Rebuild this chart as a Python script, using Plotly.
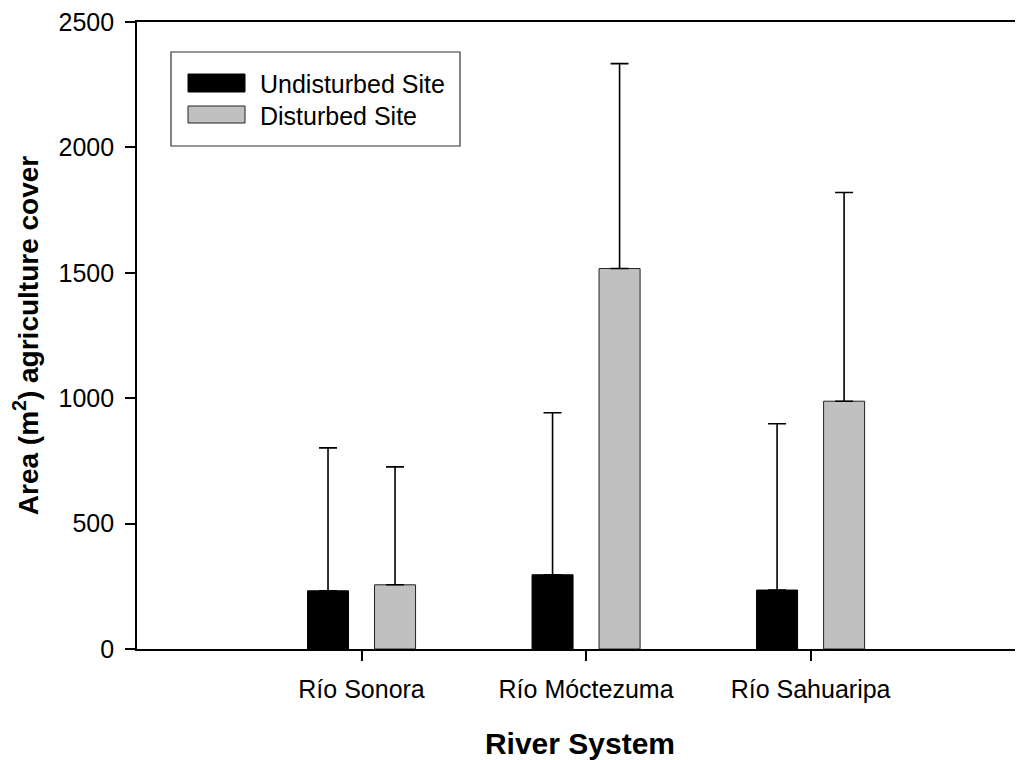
import plotly.graph_objects as go

categories = ["Río Sonora", "Río Móctezuma", "Río Sahuaripa"]
undisturbed = [232, 296, 235]
undisturbed_err = [570, 646, 663]
disturbed = [256, 1517, 988]
disturbed_err = [470, 817, 832]
series_names = ["Undisturbed Site", "Disturbed Site"]
y_ticks = [0, 500, 1000, 1500, 2000, 2500]

FONT = "Arial, 'Liberation Sans', sans-serif"

fig = go.Figure()
fig.add_trace(go.Bar(
    x=categories, y=undisturbed, name=series_names[0],
    marker=dict(color="black", line=dict(color="black", width=1)),
    error_y=dict(type="data", array=undisturbed_err, arrayminus=[0]*3, symmetric=False,
                 color="black", thickness=1.6, width=9),
    showlegend=False,
))
fig.add_trace(go.Bar(
    x=categories, y=disturbed, name=series_names[1],
    marker=dict(color="#c0c0c0", line=dict(color="#222222", width=1)),
    error_y=dict(type="data", array=disturbed_err, arrayminus=[0]*3, symmetric=False,
                 color="black", thickness=1.6, width=9),
    showlegend=False,
))

# page body has an 8px margin, so the figure is drawn 8px smaller / offset
OFF = 8
W, H = 1023 - OFF, 760 - OFF
L, R, T, B = 137 - OFF, 0, 22 - OFF, 111
pw, ph = W - L - R, H - T - B

def px(x):
    return (x - OFF - L) / pw

def py(y):
    return (H - B - (y - OFF)) / ph

shapes = [
    dict(type="rect", xref="paper", yref="paper", x0=px(171), x1=px(460), y0=py(146), y1=py(52),
         line=dict(color="#333333", width=1.2), fillcolor="white"),
    dict(type="rect", xref="paper", yref="paper", x0=px(188), x1=px(245), y0=py(92), y1=py(74),
         line=dict(color="black", width=1), fillcolor="black"),
    dict(type="rect", xref="paper", yref="paper", x0=px(188), x1=px(245), y0=py(123), y1=py(106),
         line=dict(color="#222222", width=1), fillcolor="#c0c0c0"),
]
annotations = [
    dict(text=series_names[0], xref="paper", yref="paper", x=px(258), y=py(84), xanchor="left",
         yanchor="middle", showarrow=False, font=dict(family=FONT, size=25, color="black")),
    dict(text=series_names[1], xref="paper", yref="paper", x=px(258), y=py(116), xanchor="left",
         yanchor="middle", showarrow=False, font=dict(family=FONT, size=25, color="black")),
]

fig.update_layout(
    width=W, height=H,
    margin=dict(l=L, r=R, t=T, b=B),
    paper_bgcolor="white", plot_bgcolor="white",
    barmode="group", bargap=0.403, bargroupgap=0.388,
    font=dict(family=FONT, color="black"),
    shapes=shapes, annotations=annotations,
    xaxis=dict(
        type="category", range=[-1, 2.946],
        showline=True, linecolor="black", linewidth=1.6, mirror=True,
        ticks="outside", ticklen=10, tickwidth=1.6, tickcolor="black",
        tickfont=dict(family=FONT, size=25, color="black"),
        ticklabelstandoff=7, ticklabeloverflow="allow",
        showgrid=False, zeroline=False,
        title=dict(text="<b>River System</b>", font=dict(family=FONT, size=30, color="black"),
                   standoff=32),
    ),
    yaxis=dict(
        range=[0, 2500], tickvals=y_ticks, ticktext=[str(v) for v in y_ticks],
        showline=True, linecolor="black", linewidth=1.6,
        ticks="outside", ticklen=10, tickwidth=1.6, tickcolor="black",
        tickfont=dict(family=FONT, size=25, color="black"),
        ticklabelstandoff=6, ticklabeloverflow="allow",
        showgrid=False, zeroline=False,
        title=dict(text="<b>Area (m<sup>2</sup>) agriculture cover</b>",
                   font=dict(family=FONT, size=28, color="black"), standoff=12),
    ),
)

fig.write_html("out.html")
